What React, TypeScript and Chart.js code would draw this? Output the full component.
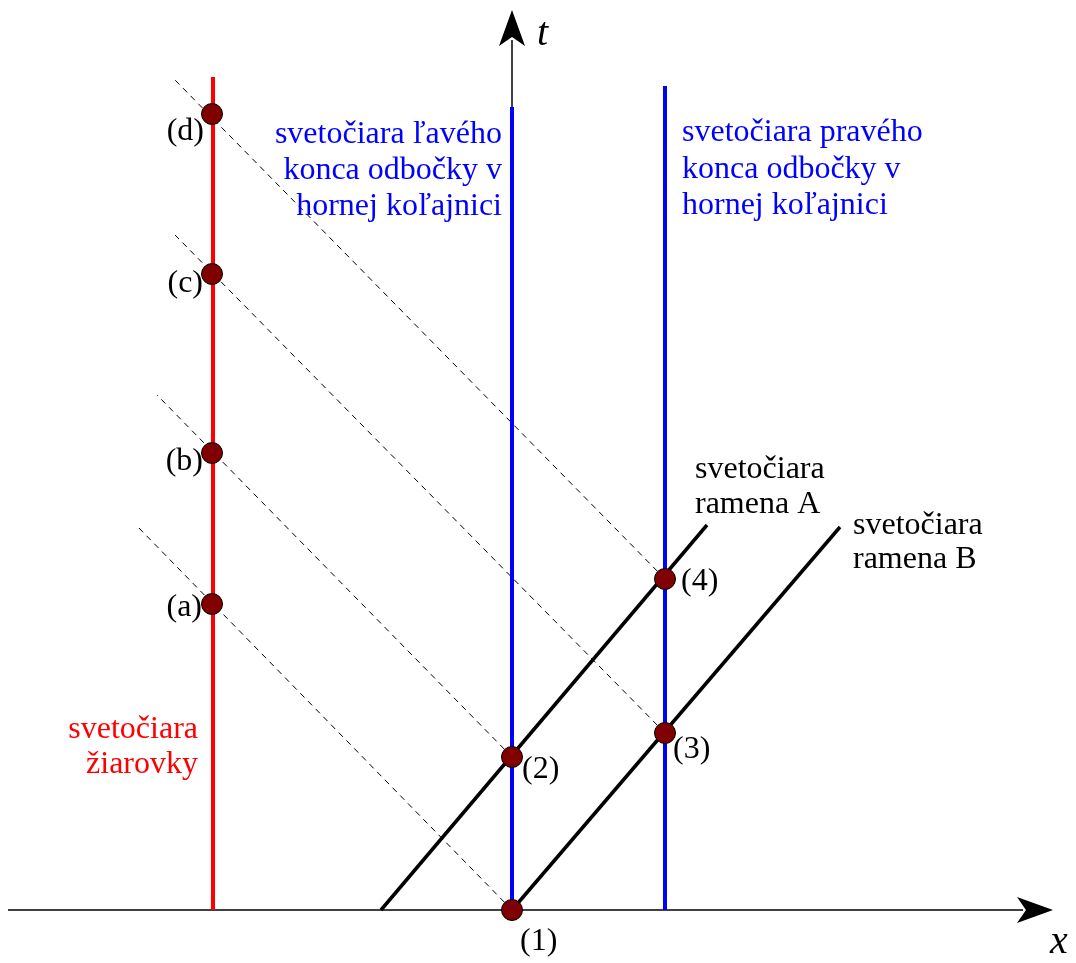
import React, { useEffect, useRef } from "react";
import { Chart, registerables } from "chart.js";

Chart.register(...registerables);

// Spacetime events (x, t) in diagram units
const eventLabels = ["(1)", "(2)", "(3)", "(4)", "(a)", "(b)", "(c)", "(d)"];
const eventX = [0, 0, 1.53, 1.53, -3, -3, -3, -3];
const eventT = [0, 1.53, 1.77, 3.31, 3.06, 4.57, 6.36, 7.96];

// World lines
const lampX = -2.99;
const lampTop = 8.33;
const leftEndX = 0;
const leftEndTop = 8.03;
const rightEndX = 1.53;
const rightEndTop = 8.24;
const armA = [
  { x: -1.31, y: 0 },
  { x: 1.95, y: 3.85 },
];
const armB = [
  { x: 0, y: 0 },
  { x: 3.28, y: 3.83 },
];

// Light rays back to the lamp: start events and far ends
const rayStartIdx = [0, 1, 2, 3];
const rayEndX = [-3.76, -3.55, -3.37, -3.37];
const rayEndT = [3.85, 5.15, 6.75, 8.3];

// Axes
const xAxisFrom = -5.04;
const xAxisTip = 5.41;
const tAxisTip = 9.0;

// Text blocks
const blockLines = [
  ["svetočiara ľavého", "konca odbočky v", "hornej koľajnici"],
  ["svetočiara pravého", "konca odbočky v", "hornej koľajnici"],
  ["svetočiara", "ramena A"],
  ["svetočiara", "ramena B"],
  ["svetočiara", "žiarovky"],
];
const blockX = [-0.1, 1.7, 1.83, 3.41, -3.14];
const blockT = [7.67, 7.69, 4.32, 3.76, 1.72];

const W = 1076;
const H = 963;
const ORIGIN_PX = 512;
const ORIGIN_PY = 910;
const UNIT = 100;

const blockStyle = [
  { color: "#0000ff", align: "right", lh: 36 },
  { color: "#0000ff", align: "left", lh: 36.5 },
  { color: "#000000", align: "left", lh: 35 },
  { color: "#000000", align: "left", lh: 34 },
  { color: "#ff0000", align: "right", lh: 35 },
];
const eventLabelStyle = [
  { dx: 8, dy: 32, align: "left" },
  { dx: 10, dy: 13, align: "left" },
  { dx: 8, dy: 17, align: "left" },
  { dx: 16, dy: 3, align: "left" },
  { dx: -10, dy: 4, align: "right" },
  { dx: -9, dy: 9, align: "right" },
  { dx: -9, dy: 10, align: "right" },
  { dx: -8, dy: 18, align: "right" },
];

const SERIF = '"Liberation Serif", "Times New Roman", serif';

const decorPlugin = {
  id: "decor",
  afterDatasetsDraw(chart: any) {
    const ctx = chart.ctx as CanvasRenderingContext2D;
    const xs = chart.scales.x;
    const ys = chart.scales.y;
    const px = (v: number) => xs.getPixelForValue(v);
    const py = (v: number) => ys.getPixelForValue(v);
    ctx.save();
    // arrowheads
    ctx.fillStyle = "#000";
    const xt = px(xAxisTip);
    const y0 = py(0);
    ctx.beginPath();
    ctx.moveTo(xt, y0);
    ctx.lineTo(xt - 36, y0 - 13);
    ctx.lineTo(xt - 27, y0);
    ctx.lineTo(xt - 36, y0 + 13);
    ctx.closePath();
    ctx.fill();
    const x0 = px(0);
    const tt = py(tAxisTip);
    ctx.beginPath();
    ctx.moveTo(x0, tt);
    ctx.lineTo(x0 - 13, tt + 36);
    ctx.lineTo(x0, tt + 27);
    ctx.lineTo(x0 + 13, tt + 36);
    ctx.closePath();
    ctx.fill();

    // axis labels
    ctx.font = `italic 40px ${SERIF}`;
    ctx.textAlign = "left";
    ctx.textBaseline = "alphabetic";
    ctx.fillText("t", x0 + 25, tt + 35);
    ctx.fillText("x", xt - 3, y0 + 43);

    // text blocks
    ctx.font = `32px ${SERIF}`;
    blockLines.forEach((lines, i) => {
      const s = blockStyle[i];
      ctx.fillStyle = s.color;
      ctx.textAlign = s.align as CanvasTextAlign;
      const bx = px(blockX[i]);
      const by = py(blockT[i]);
      lines.forEach((ln, j) => ctx.fillText(ln, bx, by + j * s.lh));
    });

    // event labels
    ctx.fillStyle = "#000";
    ctx.textBaseline = "middle";
    eventLabels.forEach((lab, i) => {
      const s = eventLabelStyle[i];
      ctx.textAlign = s.align as CanvasTextAlign;
      ctx.fillText(lab, px(eventX[i]) + s.dx, py(eventT[i]) + s.dy);
    });
    ctx.restore();
  },
};

export default function App() {
  const ref = useRef<HTMLCanvasElement | null>(null);
  useEffect(() => {
    if (!ref.current) return;
    const line = (data: any[], color: string, width: number, order: number, dash: number[] = []) => ({
      type: "line",
      data,
      showLine: true,
      borderColor: color,
      borderWidth: width,
      borderDash: dash,
      pointRadius: 0,
      pointHoverRadius: 0,
      fill: false,
      order,
      tension: 0,
      clip: false,
    });
    const rays = rayStartIdx.map((ei, k) =>
      line(
        [
          { x: eventX[ei], y: eventT[ei] },
          { x: rayEndX[k], y: rayEndT[k] },
        ],
        "#000",
        1,
        3,
        [6, 5]
      )
    );
    const datasets: any[] = [
      {
        type: "scatter",
        data: eventX.map((x, i) => ({ x, y: eventT[i] })),
        pointRadius: 10.5,
        pointHoverRadius: 10.5,
        pointBackgroundColor: "#800000",
        pointBorderColor: "#000",
        pointBorderWidth: 1,
        showLine: false,
        order: 0,
        clip: false,
      },
      line([{ x: lampX, y: 0 }, { x: lampX, y: lampTop }], "#ff0000", 4, 1),
      line([{ x: leftEndX, y: 0 }, { x: leftEndX, y: leftEndTop }], "#0000ff", 4, 1),
      line([{ x: rightEndX, y: 0 }, { x: rightEndX, y: rightEndTop }], "#0000ff", 4, 1),
      line(armA, "#000", 3.5, 1),
      line(armB, "#000", 3.5, 1),
      ...rays,
      line([{ x: xAxisFrom, y: 0 }, { x: xAxisTip - 0.3, y: 0 }], "#000", 1.5, 4),
      line([{ x: 0, y: 0 }, { x: 0, y: tAxisTip - 0.3 }], "#000", 1.5, 4),
    ];
    const chart = new Chart(ref.current, {
      type: "scatter",
      data: { datasets },
      options: {
        animation: false,
        responsive: false,
        devicePixelRatio: 1,
        layout: { padding: 0, autoPadding: false },
        plugins: { legend: { display: false }, tooltip: { enabled: false } },
        events: [],
        scales: {
          x: {
            type: "linear",
            display: false,
            min: -ORIGIN_PX / UNIT,
            max: (W - ORIGIN_PX) / UNIT,
          },
          y: {
            type: "linear",
            display: false,
            min: -(H - ORIGIN_PY) / UNIT,
            max: ORIGIN_PY / UNIT,
          },
        },
      } as any,
      plugins: [decorPlugin],
    });
    return () => chart.destroy();
  }, []);
  return (
    <div style={{ position: "absolute", left: 0, top: 0, width: W, height: H, background: "#fff" }}>
      <canvas ref={ref} width={W} height={H} style={{ width: W, height: H, display: "block" }} />
    </div>
  );
}
